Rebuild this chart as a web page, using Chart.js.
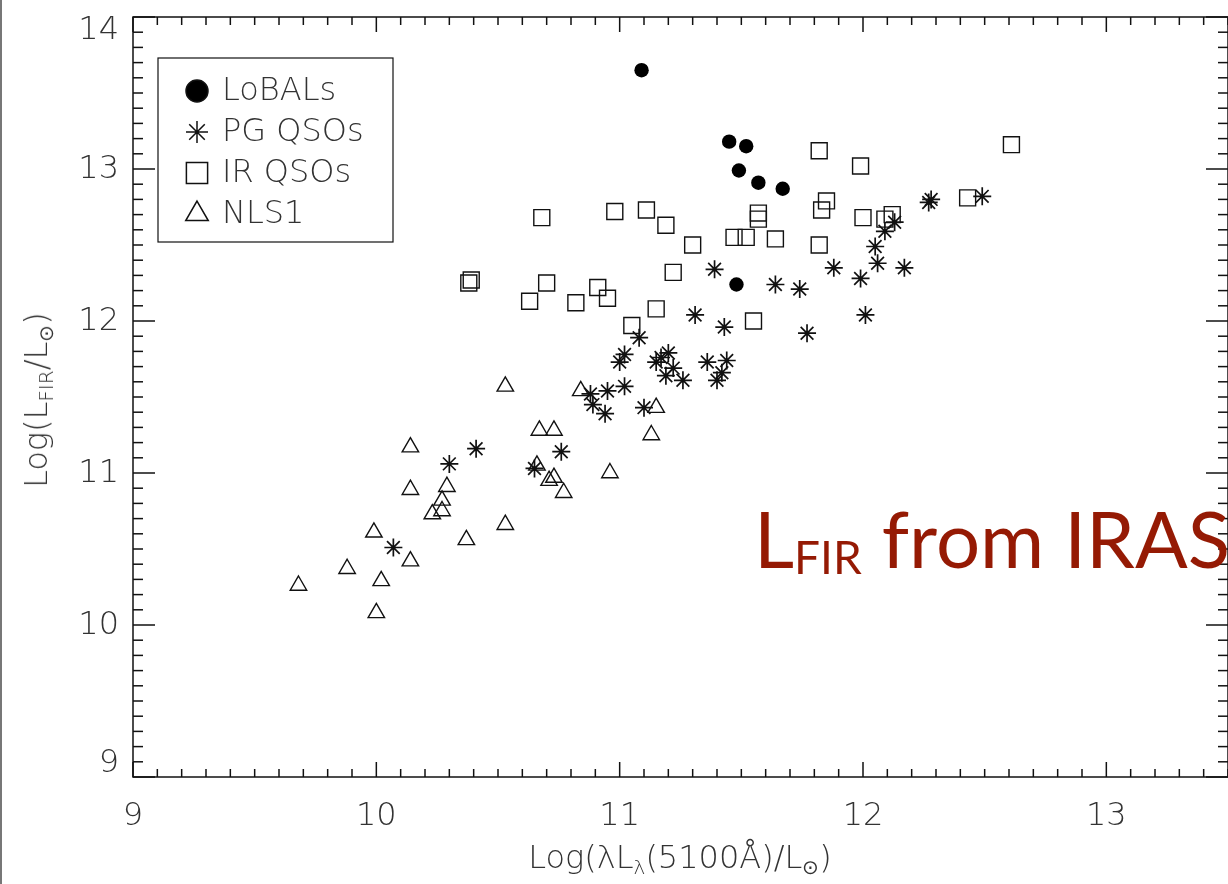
<!DOCTYPE html>
<html>
<head>
<meta charset="utf-8">
<script src="https://cdn.jsdelivr.net/npm/chart.js@4.4.0/dist/chart.umd.min.js"></script>
<style>
  html, body { margin: 0; background: #fff; overflow: hidden; }
  #wrap { position: relative; width: 1228px; height: 884px; overflow: hidden; }
  #scatter { display: block; }
  #edge { position: absolute; left: 0; top: 0; width: 0; height: 884px; border-left: 2px solid #777; }
  .axt { position: absolute; font-family: 'DejaVu Sans', sans-serif; font-weight: 200; font-size: 32px; color: #333; white-space: nowrap; }
  .axt sub { font-size: 20px; vertical-align: -6px; line-height: 0; }
  #xtitle { left: 680px; top: 838px; transform: translateX(-50%); }
  #ytitle { left: 36px; top: 400px; transform: translate(-50%, -50%) rotate(-90deg); }
  #note { position: absolute; left: 754px; top: 491px; font-family: 'Lato', 'Open Sans', sans-serif; font-size: 78px; color: #951a04; white-space: nowrap; }
  #note sub { font-size: 46px; vertical-align: -6px; line-height: 0; }
</style>
</head>
<body>
<div id="wrap">
  <canvas id="scatter" width="1228" height="884"></canvas>
  <div id="edge"></div>
  <div class="axt" id="xtitle">Log(λL<sub>λ</sub>(5100Å)/L<sub>⊙</sub>)</div>
  <div class="axt" id="ytitle">Log(L<sub>FIR</sub>/L<sub>⊙</sub>)</div>
  <div id="note">L<sub>FIR</sub> from IRAS</div>
</div>
<script>
//axis ranges and tick labels
const xTicks = [9, 10, 11, 12, 13];
const yTicks = [9, 10, 11, 12, 13, 14];
const xMin = 9, xMax = 13.5;
const yMin = 9, yMax = 14;

//legend labels
const seriesNames = ['LoBALs', 'PG QSOs', 'IR QSOs', 'NLS1'];

//LoBALs
const loX = [11.09, 11.45, 11.52, 11.49, 11.57, 11.67, 11.48];
const loY = [13.65, 13.18, 13.15, 12.99, 12.91, 12.87, 12.24];

//PG QSOs
const pgX = [12.27, 12.28, 12.49, 12.13, 12.09, 12.05, 12.06, 12.17, 11.99, 11.88,
             11.39, 11.64, 11.74, 12.01, 11.77, 11.31, 11.43, 11.08, 11.02, 11.00,
             11.15, 11.17, 11.20, 11.22, 11.19, 11.26, 11.36, 11.44, 11.42, 11.40,
             11.02, 10.95, 10.94, 11.10, 10.88, 10.89, 10.76, 10.65, 10.41, 10.30, 10.07];
const pgY = [12.78, 12.80, 12.82, 12.65, 12.59, 12.49, 12.38, 12.35, 12.28, 12.35,
             12.34, 12.24, 12.21, 12.04, 11.92, 12.04, 11.96, 11.89, 11.78, 11.73,
             11.73, 11.76, 11.79, 11.69, 11.64, 11.61, 11.73, 11.74, 11.66, 11.61,
             11.57, 11.54, 11.39, 11.43, 11.52, 11.45, 11.14, 11.03, 11.16, 11.06, 10.51];

//IR QSOs
const irX = [11.82, 10.68, 10.98, 11.11, 11.19, 11.30, 11.47, 11.52, 11.57, 11.57,
             11.64, 11.22, 10.39, 10.38, 10.70, 10.91, 10.63, 10.82, 10.95, 11.15,
             11.05, 11.55, 11.82, 11.99, 11.85, 11.83, 12.00, 12.09, 12.12, 12.43, 12.61];
const irY = [13.12, 12.68, 12.72, 12.73, 12.63, 12.50, 12.55, 12.55, 12.71, 12.67,
             12.54, 12.32, 12.27, 12.25, 12.25, 12.22, 12.13, 12.12, 12.15, 12.08,
             11.97, 12.00, 12.50, 13.02, 12.79, 12.73, 12.68, 12.67, 12.70, 12.81, 13.16];

//NLS1
const nlX = [10.53, 10.84, 10.67, 10.73, 11.15, 11.13, 10.96, 10.66, 10.73, 10.71,
             10.77, 10.14, 10.14, 10.29, 10.27, 10.23, 10.27, 10.53, 9.99, 10.37,
             10.14, 9.88, 10.02, 9.68, 10.00];
const nlY = [11.57, 11.54, 11.28, 11.28, 11.43, 11.25, 11.00, 11.05, 10.97, 10.95,
             10.87, 11.17, 10.89, 10.91, 10.82, 10.73, 10.75, 10.66, 10.61, 10.56,
             10.42, 10.37, 10.29, 10.26, 10.08];

const toPoints = (xs, ys) => xs.map((v, i) => ({x: v, y: ys[i]}));

const ink = '#111';
const labelFont = "200 32px 'DejaVu Sans', sans-serif";

//legend symbol styles, same order as seriesNames
const symbols = [
    {pointStyle: 'circle', radius: 11, fill: '#000'},
    {pointStyle: 'star', radius: 11, fill: 'rgba(0,0,0,0)'},
    {pointStyle: 'rect', radius: 15, fill: 'rgba(0,0,0,0)'},
    {pointStyle: 'triangle', radius: 13, fill: 'rgba(0,0,0,0)'},
];

//frame with inward ticks on all four sides, plus the tick labels
const frameTicks = {
    id: 'frameTicks',
    afterDatasetsDraw(chart) {
        const {ctx, chartArea: a, scales} = chart;
        const line = (x1, y1, x2, y2) => {
            ctx.beginPath(); ctx.moveTo(x1, y1); ctx.lineTo(x2, y2); ctx.stroke();
        };
        ctx.save();
        ctx.strokeStyle = ink;
        ctx.lineWidth = 1.5;
        ctx.strokeRect(a.left, a.top, a.right - a.left, a.bottom - a.top);
        for(let t = xMin * 10; t <= xMax * 10; t++) {
            const px = scales.x.getPixelForValue(t / 10);
            const len = t % 10 === 0 ? 15 : 8;
            line(px, a.bottom, px, a.bottom - len);
            line(px, a.top, px, a.top + len);
        }
        for(let t = yMin * 10; t <= yMax * 10; t++) {
            const py = scales.y.getPixelForValue(t / 10);
            const len = t % 10 === 0 ? 22 : 10;
            line(a.left, py, a.left + len, py);
            line(a.right, py, a.right - len, py);
        }

        //tick labels, kept inside the frame height like the original
        ctx.font = labelFont;
        ctx.fillStyle = '#333';
        ctx.textBaseline = 'middle';
        ctx.textAlign = 'center';
        xTicks.forEach(v => {
            ctx.fillText(String(v), scales.x.getPixelForValue(v), a.bottom + 40);
        });
        ctx.textAlign = 'right';
        yTicks.forEach(v => {
            let py = scales.y.getPixelForValue(v);
            py = Math.min(Math.max(py, a.top + 13), a.bottom - 14);
            ctx.fillText(String(v), a.left - 14, py + 1);
        });
        ctx.restore();
    }
};

//boxed legend in upper left corner
const boxLegend = {
    id: 'boxLegend',
    afterDraw(chart) {
        const {ctx} = chart;
        ctx.save();
        ctx.strokeStyle = ink;
        ctx.lineWidth = 1.2;
        ctx.strokeRect(158, 58, 235, 184);
        ctx.font = labelFont;
        ctx.textBaseline = 'middle';
        seriesNames.forEach((name, i) => {
            const cy = 91 + i * 41;
            const s = symbols[i];
            ctx.fillStyle = s.fill;
            ctx.strokeStyle = ink;
            ctx.lineWidth = 1.5;
            Chart.helpers.drawPoint(ctx, {pointStyle: s.pointStyle, radius: s.radius, rotation: 0, borderWidth: 1.5}, 197, cy);
            ctx.fillStyle = '#333';
            ctx.fillText(name, 222, cy + 1);
        });
        ctx.restore();
    }
};

const datasets = [
    {label: seriesNames[3], data: toPoints(nlX, nlY), pointStyle: 'triangle', pointRadius: 9.5,
     backgroundColor: 'rgba(0,0,0,0)', borderColor: ink, borderWidth: 1.4},
    {label: seriesNames[2], data: toPoints(irX, irY), pointStyle: 'rect', pointRadius: 11.3,
     backgroundColor: 'rgba(0,0,0,0)', borderColor: ink, borderWidth: 1.4},
    {label: seriesNames[1], data: toPoints(pgX, pgY), pointStyle: 'star', pointRadius: 9,
     backgroundColor: 'rgba(0,0,0,0)', borderColor: ink, borderWidth: 1.7},
    {label: seriesNames[0], data: toPoints(loX, loY), pointStyle: 'circle', pointRadius: 7.2,
     backgroundColor: '#000', borderColor: '#000', borderWidth: 0},
];

new Chart(document.getElementById('scatter'), {
    type: 'scatter',
    data: {datasets: datasets},
    options: {
        responsive: false,
        animation: false,
        devicePixelRatio: 1,
        layout: {autoPadding: false, padding: {top: 17, right: 0, left: 0, bottom: 0}},
        plugins: {legend: {display: false}, tooltip: {enabled: false}},
        elements: {point: {hoverRadius: 0}},
        scales: {
            x: {
                type: 'linear', min: xMin, max: xMax,
                afterFit: scale => { scale.height = 107; },
                grid: {display: false, drawTicks: false},
                border: {display: false},
                ticks: {display: false}
            },
            y: {
                type: 'linear', min: yMin, max: yMax,
                afterFit: scale => { scale.width = 133; },
                grid: {display: false, drawTicks: false},
                border: {display: false},
                ticks: {display: false}
            }
        }
    },
    plugins: [frameTicks, boxLegend]
});
</script>
</body>
</html>
